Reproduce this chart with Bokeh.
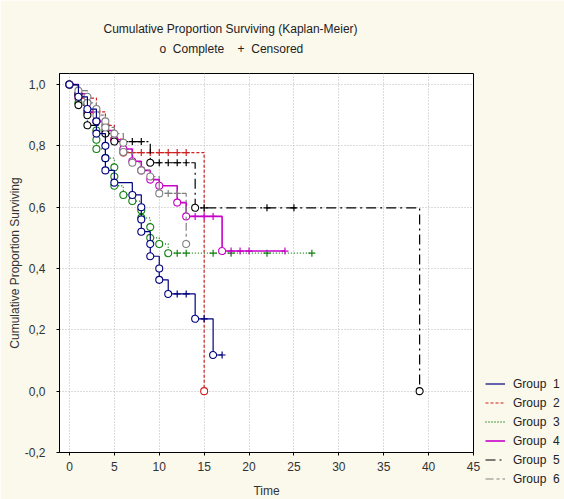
from bokeh.plotting import figure
from bokeh.models import Range1d, Legend, LegendItem, Title, CustomJSTickFormatter, FixedTicker
from bokeh.embed import file_html
from bokeh.resources import INLINE

NB = "\u00a0"

# ---- data ----
group_names = ["Group" + NB * 2 + "1", "Group" + NB * 2 + "2", "Group" + NB * 2 + "3",
               "Group" + NB * 2 + "4", "Group" + NB * 2 + "5", "Group" + NB * 2 + "6"]

g1_t = [0, 1, 2, 3, 3, 4, 4, 4, 5, 7, 8, 8, 8, 9, 9, 10, 10, 11, 14, 16]
g1_s = [1.0, 0.96, 0.92, 0.88, 0.84, 0.80, 0.76, 0.72, 0.68, 0.64, 0.60, 0.56, 0.52, 0.48, 0.44, 0.40, 0.363, 0.317, 0.236, 0.118]
g1_cens = [12, 13, 15, 17]
g1_end = 17

g2_t = [0, 1, 3, 4, 5, 6, 15]
g2_s = [1.0, 0.956, 0.911, 0.867, 0.822, 0.778, 0.0]
g2_cens = [7, 8, 9, 10, 11, 12, 13]
g2_end = 15

g3_t = [0, 1, 1, 2, 3, 3, 3, 3, 4, 5, 5, 5, 6, 7, 8, 8, 9, 9, 10, 11]
g3_s = [1.0, 0.97, 0.94, 0.91, 0.88, 0.85, 0.82, 0.79, 0.76, 0.73, 0.70, 0.67, 0.64, 0.62, 0.59, 0.565, 0.535, 0.50, 0.48, 0.45]
g3_cens = [12, 13, 16, 18, 22, 27]
g3_end = 27

g4_t = [0, 1, 2, 2, 3, 4, 5, 6, 7, 8, 9, 10, 12, 13, 17]
g4_s = [1.0, 0.97, 0.94, 0.91, 0.88, 0.85, 0.82, 0.79, 0.75, 0.72, 0.69, 0.67, 0.615, 0.57, 0.457]
g4_cens = [14, 15, 16, 18, 19, 20, 24]
g4_end = 24

g5_t = [0, 1, 1, 2, 2, 4, 5, 9, 14, 39]
g5_s = [1.0, 0.967, 0.933, 0.90, 0.867, 0.84, 0.814, 0.745, 0.598, 0.0]
g5_cens = [7, 8, 10, 11, 12, 13, 15, 22, 25]
g5_end = 39

g6_t = [0, 1, 2, 2, 3, 3, 4, 4, 5, 6, 6, 7, 8, 9, 10, 13]
g6_s = [1.0, 0.98, 0.96, 0.94, 0.92, 0.90, 0.88, 0.86, 0.84, 0.81, 0.78, 0.745, 0.72, 0.70, 0.645, 0.48]
g6_cens = [11, 12]
g6_end = 13

x_ticks = [0, 5, 10, 15, 20, 25, 30, 35, 40, 45]
y_ticks = [-0.2, 0.0, 0.2, 0.4, 0.6, 0.8, 1.0]

# ---- styles ----
colors = ["#000080", "#D02020", "#108010", "#C800C8", "#000000", "#808080"]
dashes = ["solid", "3 2", "1 2", "solid", "10 4 2 4", "8 3 3 3"]
widths = [1.2, 1.2, 1.3, 1.6, 1.2, 1.2]
BG = "#FBF8EC"
FONT = "Liberation Sans"

p = figure(frame_width=414, frame_height=379, output_backend="svg", toolbar_location=None,
           x_range=Range1d(-1.11, 45), y_range=Range1d(-0.2, 1.036),
           min_border_left=59, min_border_right=90, min_border_top=73, min_border_bottom=46,
           background_fill_color="white", border_fill_color=BG)
p.title.visible = False

p.outline_line_color = "black"
p.outline_line_width = 1
p.xgrid.ticker = FixedTicker(ticks=x_ticks)
p.ygrid.ticker = FixedTicker(ticks=y_ticks)
p.grid.grid_line_color = "#b8b8b8"
p.grid.grid_line_dash = "1 2"

p.xaxis.ticker = FixedTicker(ticks=x_ticks)
p.yaxis.ticker = FixedTicker(ticks=y_ticks)
p.yaxis.formatter = CustomJSTickFormatter(code="return tick.toFixed(1).replace('.', ',');")
p.xaxis.formatter = CustomJSTickFormatter(code="return tick.toFixed(0);")
for ax in (p.xaxis[0], p.yaxis[0]):
    ax.axis_line_color = "black"
    ax.major_tick_line_color = "black"
    ax.major_tick_out = 3
    ax.major_tick_in = 0
    ax.minor_tick_line_color = None
    ax.major_label_text_font = FONT
    ax.major_label_text_font_size = "12px"
    ax.major_label_text_color = "#333333"
    ax.axis_label_text_font = FONT
    ax.axis_label_text_font_size = "12px"
    ax.axis_label_text_font_style = "normal"
    ax.axis_label_text_color = "#333333"
p.xaxis.axis_label = "Time"
p.yaxis.axis_label = "Cumulative Proportion Surviving"
p.xaxis.major_label_standoff = 6
p.yaxis.major_label_standoff = 11
p.xaxis.axis_label_standoff = 10
p.yaxis.axis_label_standoff = 0

groups = [
    (g1_t, g1_s, g1_cens, g1_end),
    (g2_t, g2_s, g2_cens, g2_end),
    (g3_t, g3_s, g3_cens, g3_end),
    (g4_t, g4_s, g4_cens, g4_end),
    (g5_t, g5_s, g5_cens, g5_end),
    (g6_t, g6_s, g6_cens, g6_end),
]

def surv_at(ts, ss, c):
    v = ss[0]
    for t, s in zip(ts, ss):
        if t <= c:
            v = s
    return v

order = [1, 2, 3, 4, 5, 0]
renders = {}
for i in order:
    ts, ss, cens, end = groups[i]
    xs = list(ts) + [end]
    ys = list(ss) + [ss[-1]]
    r = p.step(xs, ys, mode="after", line_color=colors[i], line_dash=dashes[i], line_width=widths[i])
    renders[i] = r
    cs = [surv_at(ts, ss, c) for c in cens]
    p.scatter(cens, cs, marker="cross", size=7, line_color=colors[i], line_width=1.2)
    p.scatter(ts, ss, marker="circle", size=7, line_color=colors[i], fill_color="white", line_width=1.1)

items = [LegendItem(label=group_names[i], renderers=[renders[i]]) for i in range(6)]
legend = Legend(items=items, location=(12, -36), orientation="vertical",
                glyph_width=20, glyph_height=19, label_height=19, label_standoff=8,
                spacing=0, padding=0, margin=0,
                label_text_font=FONT, label_text_font_size="12px", label_text_color="#222222",
                background_fill_alpha=0, border_line_color=None)
p.add_layout(legend, "right")

spacer = Title(text=NB, text_font_size="1px", standoff=15)
sub = Title(text="o" + NB * 2 + "Complete" + NB * 4 + "+" + NB * 2 + "Censored", align="left", offset=100,
            text_font=FONT, text_font_size="12px", text_font_style="normal", text_color="#222222", standoff=0)
main = Title(text="Cumulative Proportion Surviving (Kaplan-Meier)", align="left", offset=44,
             text_font=FONT, text_font_size="12px", text_font_style="normal", text_color="#222222", standoff=8)
p.add_layout(spacer, "above")
p.add_layout(sub, "above")
p.add_layout(main, "above")

open("out.html", "w").write(file_html(p, INLINE))
